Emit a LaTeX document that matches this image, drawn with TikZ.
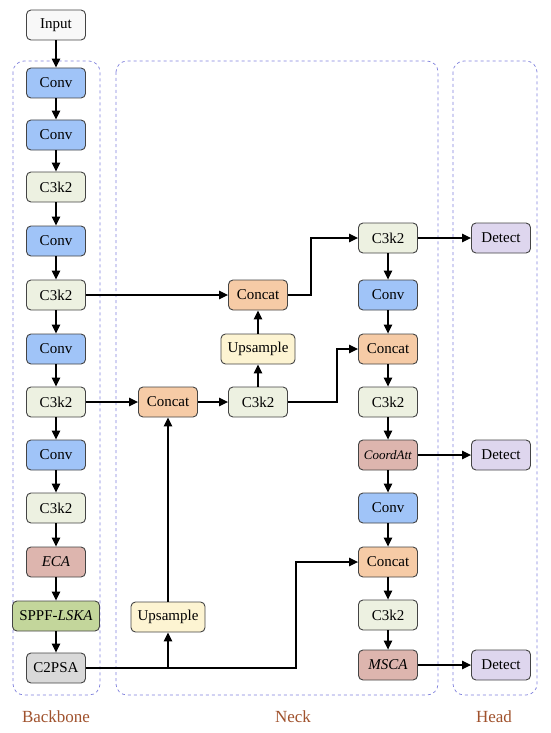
\documentclass[tikz,border=0pt]{standalone}
\usepackage{fontspec}
\setmainfont{Liberation Serif}
\usetikzlibrary{arrows.meta,calc}
\definecolor{convc}{HTML}{A0C4F8}
\definecolor{c3c}{HTML}{EDF1E1}
\definecolor{catc}{HTML}{F6CBA6}
\definecolor{upc}{HTML}{FDF4D2}
\definecolor{attc}{HTML}{DDB5AE}
\definecolor{sppfc}{HTML}{C3D69B}
\definecolor{grayc}{HTML}{D9D9D9}
\definecolor{detc}{HTML}{DED6EE}
\definecolor{inc}{HTML}{F8F8F8}
\definecolor{dashc}{HTML}{7F80DC}
\definecolor{labc}{HTML}{A0522D}
\definecolor{edgec}{HTML}{444444}
\tikzset{
  blk/.style={draw=edgec, line width=0.9pt, rounded corners=4.5pt, minimum width=59pt, minimum height=30pt, inner sep=0pt, font=\fontsize{15}{17}\selectfont},
  conv/.style={blk, fill=convc},
  cthree/.style={blk, fill=c3c},
  cat/.style={blk, fill=catc},
  ups/.style={blk, fill=upc, minimum width=74pt},
  att/.style={blk, fill=attc},
  det/.style={blk, fill=detc},
  arr/.style={line width=1.2pt, -{Triangle[length=9pt,width=8.5pt]}},
  grp/.style={draw=dashc, dashed, line width=0.7pt, rounded corners=11pt},
  lab/.style={text=labc, font=\fontsize{17}{19}\selectfont}
}
\begin{document}
\begin{tikzpicture}[x=1pt,y=-1pt]
\useasboundingbox (0,0) rectangle (550,733);
% containers
\draw[grp] (13,61) rectangle (100,695);
\draw[grp] (116,61) rectangle (438,695);
\draw[grp] (453,61) rectangle (537,695);
\node[lab] (lb) at (56,717) {Backbone};
\node[lab] (ln) at (293,717) {Neck};
\node[lab] (lh) at (494,717) {Head};
% backbone
\node[blk, fill=inc] (in) at (56,25) {Input};
\node[conv] (b1) at (56,83) {Conv};
\node[conv] (b2) at (56,135) {Conv};
\node[cthree] (b3) at (56,187) {C3k2};
\node[conv] (b4) at (56,241) {Conv};
\node[cthree] (b5) at (56,295) {C3k2};
\node[conv] (b6) at (56,349) {Conv};
\node[cthree] (b7) at (56,402) {C3k2};
\node[conv] (b8) at (56,455) {Conv};
\node[cthree] (b9) at (56,508) {C3k2};
\node[att] (b10) at (56,562) {\textit{ECA}};
\node[blk, fill=sppfc, minimum width=87pt] (b11) at (56,616) {SPPF-\textit{LSKA}};
\node[blk, fill=grayc] (b12) at (56,668) {C2PSA};
\foreach \a/\b in {in/b1,b1/b2,b2/b3,b3/b4,b4/b5,b5/b6,b6/b7,b7/b8,b8/b9,b9/b10,b10/b11,b11/b12}
  \draw[arr] (\a) -- (\b);
% neck middle
\node[cat] (n0) at (168,402) {Concat};
\node[cthree] (n1) at (258,402) {C3k2};
\node[ups] (n2) at (258,349) {Upsample};
\node[cat] (n3) at (258,295) {Concat};
\node[ups] (nu) at (168,617) {Upsample};
% neck right
\node[cthree] (r1) at (388,238) {C3k2};
\node[conv] (r2) at (388,295) {Conv};
\node[cat] (r3) at (388,349) {Concat};
\node[cthree] (r4) at (388,402) {C3k2};
\node[att] (r5) at (388,455) {\fontsize{13}{15}\selectfont\textit{CoordAtt}};
\node[conv] (r6) at (388,508) {Conv};
\node[cat] (r7) at (388,562) {Concat};
\node[cthree] (r8) at (388,615) {C3k2};
\node[att] (r9) at (388,665) {\textit{MSCA}};
\foreach \a/\b in {r1/r2,r2/r3,r3/r4,r4/r5,r5/r6,r6/r7,r7/r8,r8/r9}
  \draw[arr] (\a) -- (\b);
% head
\node[det] (d1) at (501,238) {Detect};
\node[det] (d2) at (501,455) {Detect};
\node[det] (d3) at (501,665) {Detect};
\draw[arr] (r1) -- (d1);
\draw[arr] (r5) -- (d2);
\draw[arr] (r9) -- (d3);
% cross connections
\draw[arr] (b5) -- (n3);
\draw[arr] (b7) -- (n0);
\draw[arr] (n0) -- (n1);
\draw[arr] (n1) -- (n2);
\draw[arr] (n2) -- (n3);
\coordinate (k1) at (311,295);
\draw[arr] (n3.east) -- (k1) |- (r1.west);
\coordinate (k2) at (337,402);
\draw[arr] (n1.east) -- (k2) |- (r3.west);
\coordinate (k3) at (296,668);
\draw[arr] (b12.east) -- (k3) |- (r7.west);
\coordinate (k4) at (168,668);
\draw[arr] (k4) -- (nu.south);
\draw[arr] (nu.north) -- (n0.south);
\end{tikzpicture}
\end{document}
